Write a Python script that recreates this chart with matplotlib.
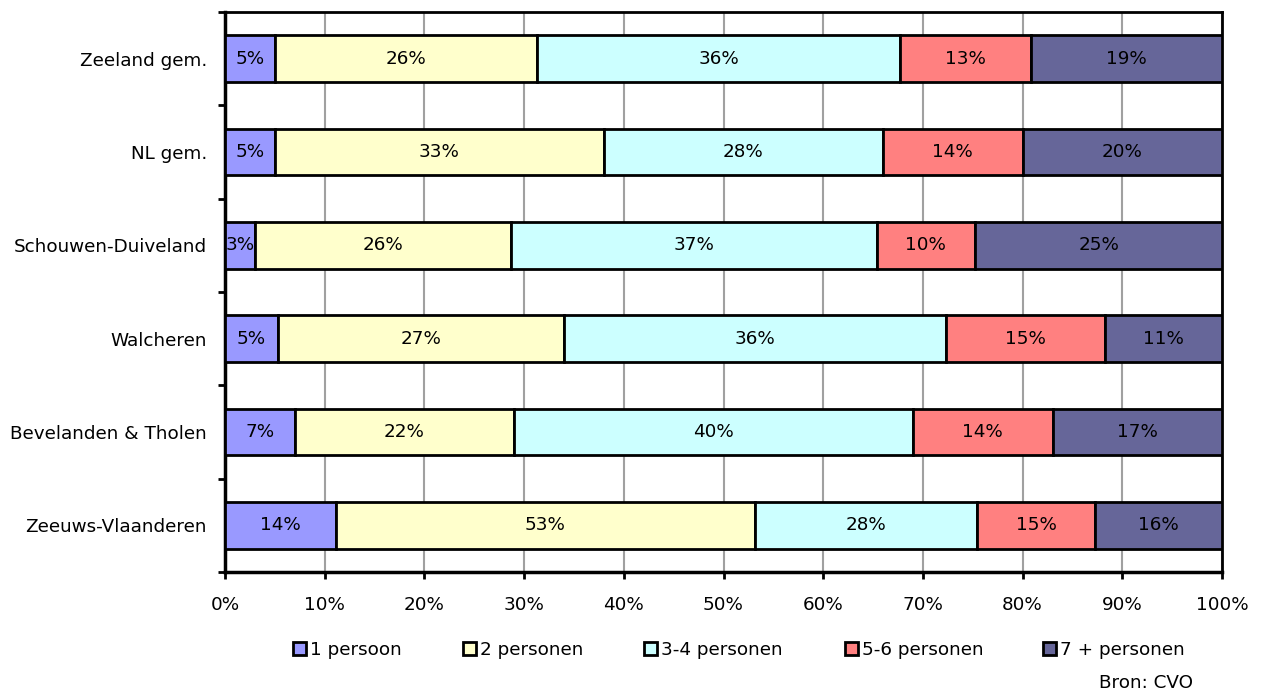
import numpy as np
import matplotlib.pyplot as plt
from matplotlib.patches import Patch
from matplotlib.ticker import FixedLocator, MultipleLocator, PercentFormatter

# regions, top to bottom
regions = ["Zeeland gem.", "NL gem.", "Schouwen-Duiveland", "Walcheren",
           "Bevelanden & Tholen", "Zeeuws-Vlaanderen"]

# share of households per size class (%), per region
p1 = [5, 5, 3, 5, 7, 14]
p2 = [26, 33, 26, 27, 22, 53]
p34 = [36, 28, 37, 36, 40, 28]
p56 = [13, 14, 10, 15, 14, 15]
p7 = [19, 20, 25, 11, 17, 16]

series = [p1, p2, p34, p56, p7]
names = ["1 persoon", "2 personen", "3-4 personen", "5-6 personen", "7 + personen"]
colors = ["#9999FF", "#FFFFCC", "#CCFFFF", "#FF8080", "#666699"]

plt.rcParams['font.family'] = ['DejaVu Sans']
FS = 13.2

fig = plt.figure(figsize=(12.61, 7.0), dpi=100)
ax = fig.add_axes([225 / 1261, 1 - 572 / 700, (1222 - 225) / 1261, 560 / 700])

vals = np.array(series, dtype=float)
totals = vals.sum(axis=0)
shares = vals / totals * 100  # stacked to 100%

y = np.arange(len(regions))[::-1]
left = np.zeros(len(regions))
for k in range(len(series)):
    bars = ax.barh(y, shares[k], left=left, height=0.5, color=colors[k],
                   edgecolor="black", linewidth=2, zorder=3)
    for b, raw, l, w in zip(bars, vals[k], left, shares[k]):
        t = ax.text(l + w / 2, b.get_y() + b.get_height() / 2, f"{raw:.0f}%",
                    ha="center", va="center", fontsize=FS, zorder=4)
        t.set_clip_path(b)
    left += shares[k]

ax.set_xlim(0, 100)
ax.set_ylim(-0.5, len(regions) - 0.5)

ax.xaxis.set_major_locator(MultipleLocator(10))
ax.xaxis.set_major_formatter(PercentFormatter(decimals=0))
ax.grid(axis="x", color="#A0A0A0", linewidth=1.5, zorder=0)
ax.set_axisbelow(True)

ax.set_yticks(y)
ax.set_yticklabels(regions)
ax.yaxis.set_minor_locator(FixedLocator(np.arange(-0.5, len(regions), 1.0)))
ax.tick_params(axis="y", which="major", length=0, pad=13, labelsize=FS)
ax.tick_params(axis="y", which="minor", length=5, width=2)
ax.tick_params(axis="x", length=5, width=2, pad=12, labelsize=FS)

for s in ["left", "bottom"]:
    ax.spines[s].set_linewidth(2.5)
for s in ["top", "right"]:
    ax.spines[s].set_linewidth(2)

# legend entries, left edge of each swatch in px
legend_x = [293, 463, 644, 845, 1043]
for name, col, lx in zip(names, colors, legend_x):
    h = Patch(facecolor=col, edgecolor="black", linewidth=2)
    fig.legend(handles=[h], labels=[name], loc="center left",
               bbox_to_anchor=(lx / 1261, 1 - 650 / 700), frameon=False,
               fontsize=FS, handlelength=0.7, handleheight=0.7,
               handletextpad=0.25, borderpad=0, borderaxespad=0)

fig.text(1193 / 1261, 1 - 683 / 700, "Bron: CVO", ha="right", va="center",
         fontsize=FS)

fig.savefig("out.png", dpi=100)
